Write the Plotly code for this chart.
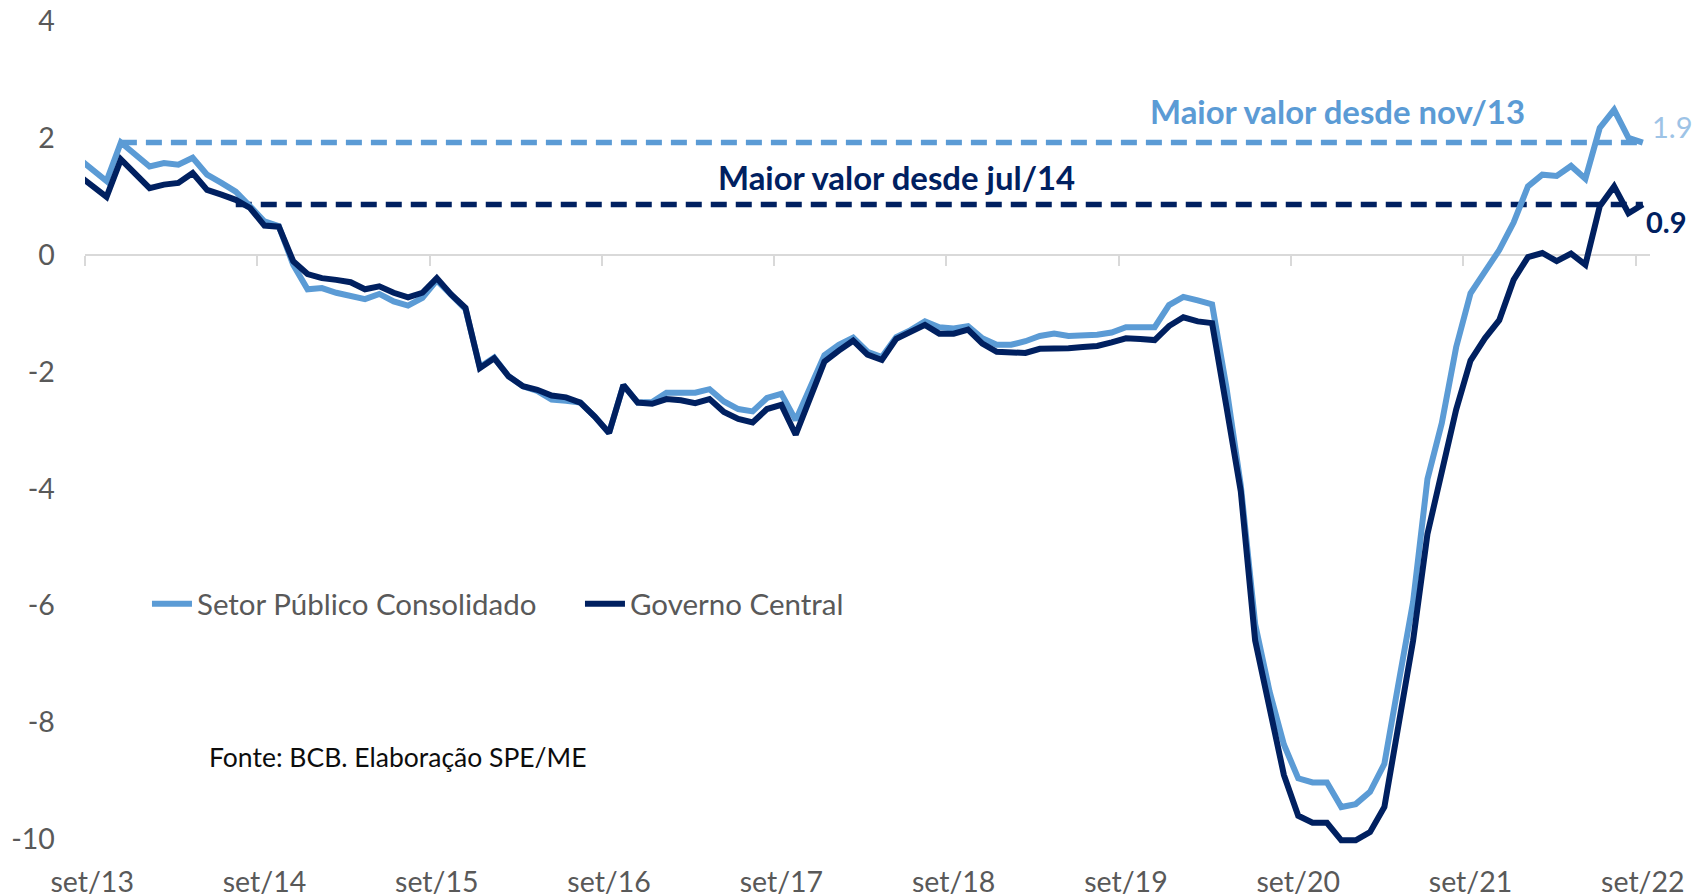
import plotly.graph_objects as go

# ---------------- data ----------------
month_abbr = ["jan", "fev", "mar", "abr", "mai", "jun", "jul", "ago", "set", "out", "nov", "dez"]
months = []
yy, mm = 2013, 7  # first observation: ago/13
for _ in range(110):
    months.append(f"{month_abbr[mm]}/{str(yy)[2:]}")
    mm += 1
    if mm == 12:
        mm, yy = 0, yy + 1

# month index relative to set/13 (set/13 = 0)
x_idx = [i - 1 for i in range(len(months))]

setor_publico = [
    1.66, 1.46, 1.26, 1.92, 1.71, 1.51, 1.57, 1.54, 1.66, 1.37, 1.23, 1.08, 0.83,
    0.57, 0.49, -0.17, -0.59, -0.57, -0.65, -0.70, -0.76, -0.67, -0.80, -0.87, -0.74,
    -0.44, -0.69, -0.93, -1.92, -1.76, -2.08, -2.25, -2.33, -2.48, -2.50, -2.53, -2.77,
    -3.05, -2.23, -2.53, -2.52, -2.36, -2.36, -2.36, -2.30, -2.51, -2.64, -2.68, -2.45,
    -2.38, -2.83, -2.28, -1.72, -1.54, -1.42, -1.66, -1.75, -1.41, -1.29, -1.14, -1.24,
    -1.26, -1.22, -1.43, -1.54, -1.54, -1.48, -1.39, -1.35, -1.39, -1.39, -1.37, -1.33,
    -1.24, -1.24, -1.24, -0.86, -0.72, -0.78, -0.85, -2.27, -3.95, -6.32, -7.47, -8.38,
    -8.96, -9.03, -9.03, -9.45, -9.40, -9.19, -8.71, -7.31, -5.94, -3.84, -2.88, -1.58,
    -0.66, -0.29, 0.08, 0.55, 1.17, 1.37, 1.35, 1.52, 1.30, 2.17, 2.48, 2.00, 1.92,
]
governo_central = [
    1.37, 1.18, 0.99, 1.63, 1.38, 1.14, 1.20, 1.23, 1.40, 1.11, 1.03, 0.94, 0.80,
    0.50, 0.48, -0.11, -0.33, -0.40, -0.43, -0.47, -0.59, -0.54, -0.65, -0.73, -0.65,
    -0.40, -0.68, -0.91, -1.94, -1.77, -2.08, -2.25, -2.31, -2.41, -2.44, -2.53, -2.77,
    -3.05, -2.23, -2.53, -2.55, -2.47, -2.49, -2.54, -2.47, -2.69, -2.81, -2.87, -2.64,
    -2.57, -3.08, -2.44, -1.83, -1.64, -1.47, -1.71, -1.80, -1.44, -1.33, -1.20, -1.35,
    -1.35, -1.28, -1.52, -1.66, -1.68, -1.68, -1.61, -1.61, -1.60, -1.58, -1.56, -1.50,
    -1.43, -1.44, -1.46, -1.22, -1.07, -1.14, -1.17, -2.60, -4.05, -6.60, -7.80, -8.90,
    -9.60, -9.72, -9.72, -10.02, -10.02, -9.88, -9.45, -8.00, -6.60, -4.78, -3.72, -2.65,
    -1.81, -1.43, -1.12, -0.43, -0.04, 0.03, -0.11, 0.02, -0.17, 0.83, 1.17, 0.71, 0.86,
]

tick_labels = ["set/13", "set/14", "set/15", "set/16", "set/17",
               "set/18", "set/19", "set/20", "set/21", "set/22"]
y_ticks = [-10, -8, -6, -4, -2, 0, 2, 4]
y_tick_text = ["-10", "-8", "-6", "-4", "-2", "0", "2", "4"]

ref_spc_since = "nov/13"
ref_gc_since = "jul/14"

# ---------------- styling ----------------
LIGHT = "#5B9BD5"
DARK = "#002060"
GRAY_TXT = "#595959"
FONT = "Lato"

tick_pos = [x_idx[months.index(t)] for t in tick_labels]
tick_bound = [p - 0.5 for p in tick_pos]

fig = go.Figure()

# reference dashed lines (last value carried back to the month it was last exceeded)
i_spc = months.index(ref_spc_since)
i_gc = months.index(ref_gc_since)
fig.add_trace(go.Scatter(
    x=x_idx[i_spc:], y=[setor_publico[-1]] * (len(months) - i_spc),
    mode="lines", line=dict(color=LIGHT, width=5.5, dash="16px,9px"),
    showlegend=False, hoverinfo="skip"))
fig.add_trace(go.Scatter(
    x=x_idx[i_gc:], y=[governo_central[-1]] * (len(months) - i_gc),
    mode="lines", line=dict(color=DARK, width=5.5, dash="16px,9px"),
    showlegend=False, hoverinfo="skip"))

fig.add_trace(go.Scatter(
    x=x_idx, y=setor_publico, mode="lines", name="Setor Público Consolidado",
    line=dict(color=LIGHT, width=6), customdata=months,
    hovertemplate="%{customdata}: %{y:.2f}<extra></extra>"))
fig.add_trace(go.Scatter(
    x=x_idx, y=governo_central, mode="lines", name="Governo Central",
    line=dict(color=DARK, width=6), customdata=months,
    hovertemplate="%{customdata}: %{y:.2f}<extra></extra>"))

# invisible helper trace so the zero-line tick axis (x2) is rendered
fig.add_trace(go.Scatter(x=tick_bound, y=[None] * len(tick_bound), xaxis="x2",
                         mode="lines", showlegend=False, hoverinfo="skip"))

ymin, ymax = -10.1, 4.0
xr = [x_idx[1] - 0.5, x_idx[-1] + 0.5]

fig.update_layout(
    width=1692, height=888,
    margin=dict(l=77, r=50, t=13, b=51),
    paper_bgcolor="white", plot_bgcolor="white",
    font=dict(family=FONT, size=27, color=GRAY_TXT),
    showlegend=True,
    legend=dict(orientation="h", x=0.0396, y=0.2925, xanchor="left", yanchor="middle",
                font=dict(size=29.5, color=GRAY_TXT), bgcolor="rgba(0,0,0,0)",
                entrywidth=378, entrywidthmode="pixels", itemwidth=40),
    xaxis=dict(range=xr, tickmode="array", tickvals=tick_pos, ticktext=tick_labels,
               showgrid=False, zeroline=False, showline=False, ticks="",
               automargin=False, ticklabelstandoff=17, ticklabeloverflow="allow",
               tickfont=dict(size=28.5, color=GRAY_TXT)),
    xaxis2=dict(range=xr, overlaying="x", anchor="free",
                position=(0 - ymin) / (ymax - ymin), automargin=False,
                tickmode="array", tickvals=tick_bound, showticklabels=False,
                ticks="outside", ticklen=10, tickwidth=2, tickcolor="#D9D9D9",
                showline=False, showgrid=False, zeroline=False),
    yaxis=dict(range=[ymin, ymax], tickmode="array", tickvals=y_ticks, ticktext=y_tick_text,
               showgrid=False, showline=False, zeroline=True, zerolinecolor="#D9D9D9",
               zerolinewidth=2, ticks="outside", ticklen=23.5, tickcolor="rgba(0,0,0,0)",
               automargin=False, ticklabeloverflow="allow",
               tickfont=dict(size=28.5, color=GRAY_TXT)),
)

fig.add_annotation(x=86.7, y=2.45, xref="x", yref="y",
                   text="<b>Maior valor desde " + ref_spc_since + "</b>", showarrow=False,
                   font=dict(size=32.9, color=LIGHT, family=FONT))
fig.add_annotation(x=56, y=1.32, xref="x", yref="y",
                   text="<b>Maior valor desde " + ref_gc_since + "</b>", showarrow=False,
                   font=dict(size=32.9, color=DARK, family=FONT))
fig.add_annotation(x=x_idx[-1] + 0.5, y=2.19, xref="x", yref="y", xanchor="left",
                   text=f"{setor_publico[-1]:.1f}", showarrow=False,
                   font=dict(size=29, color="#9DC3E6", family=FONT))
fig.add_annotation(x=x_idx[-1] + 0.1, y=0.565, xref="x", yref="y", xanchor="left",
                   text=f"<b>{governo_central[-1]:.1f}</b>", showarrow=False,
                   font=dict(size=29, color=DARK, family=FONT))
fig.add_annotation(x=0.078, y=0.1068, xref="paper", yref="paper",
                   xanchor="left", yanchor="middle",
                   text="Fonte: BCB. Elaboração SPE/ME", showarrow=False,
                   font=dict(size=26.5, color="#0D0D0D", family=FONT))

fig.write_html("out.html")
